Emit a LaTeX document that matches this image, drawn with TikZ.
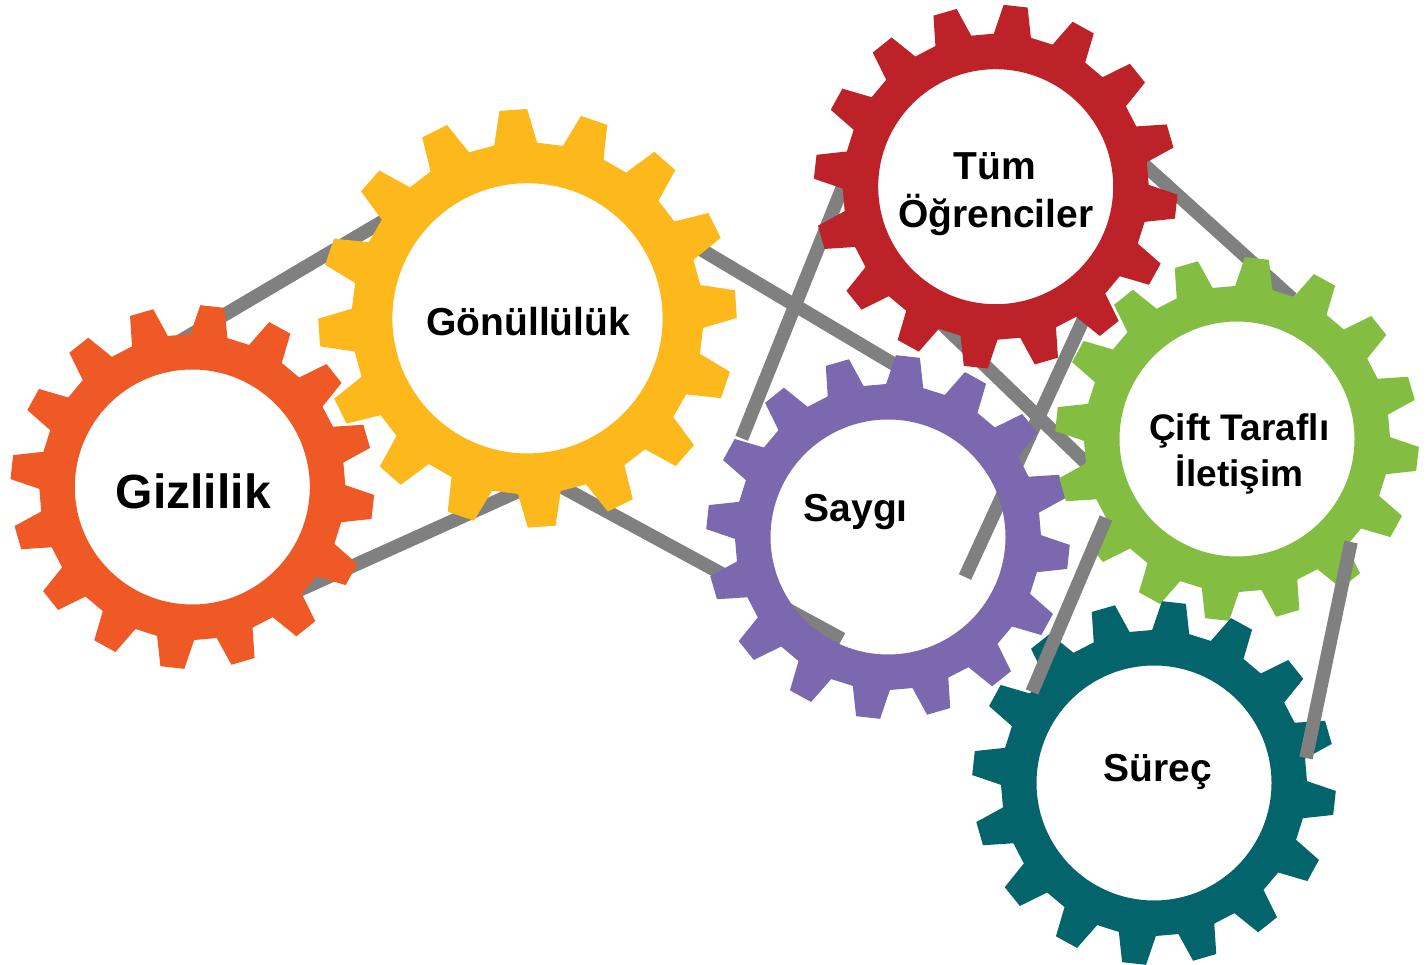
\documentclass[tikz,border=0pt]{standalone}
\usepackage{fontspec}
\setmainfont{Liberation Sans}
\definecolor{gOrange}{RGB}{238,89,38}
\definecolor{gYellow}{RGB}{253,184,27}
\definecolor{gRed}{RGB}{188,34,40}
\definecolor{gPurple}{RGB}{123,104,174}
\definecolor{gGreen}{RGB}{131,189,65}
\definecolor{gTeal}{RGB}{3,101,107}
\definecolor{beltgray}{RGB}{128,128,128}
\newcommand{\drawgear}[5]{%
  \begin{scope}[shift={(#1,#2)}, scale=#3]
    \fill[#5, even odd rule] ({#4-7}:153)
      \foreach \k in {0,...,15}{
        -- ({#4+22.5*\k-7}:153) -- ({#4+22.5*\k-3.8}:182)
        -- ({#4+22.5*\k+3.8}:182) -- ({#4+22.5*\k+7}:153)
      } -- cycle
      (0,0) circle (117.5);
  \end{scope}}
\tikzset{
  belt/.style={draw=beltgray, line width=13.5pt},
  gearlabel/.style={font=\bfseries\fontsize{39}{47}\selectfont, inner sep=0pt, anchor=base, text=black},
}
\begin{document}
\begin{tikzpicture}[x=1pt, y=-1pt]
  \useasboundingbox (0,0) rectangle (1427,965);
  \fill[white] (0,0) rectangle (1427,965);
  % belt end points
  \coordinate (a1) at (175,344);   \coordinate (b1) at (385,220);
  \coordinate (a2) at (290,594.3); \coordinate (b2) at (520,490.6);
  \coordinate (a3) at (680,237);   \coordinate (b3) at (897,366);
  \coordinate (a4) at (560,486);   \coordinate (b4) at (842,639);
  \coordinate (a5) at (845,181);   \coordinate (b5) at (741.7,438.3);
  \coordinate (a6) at (1085,316);  \coordinate (b6) at (965,577);
  \coordinate (a7) at (940,322);   \coordinate (b7) at (1086,463);
  \coordinate (a8) at (1140,161);  \coordinate (b8) at (1292,298.4);
  \coordinate (a9) at (1106,518);  \coordinate (b9) at (1032,692);
  \coordinate (a10) at (1351,542); \coordinate (b10) at (1306,758);
  % belts behind the gears
  \draw[belt] (a1) -- (b1);
  \draw[belt] (a2) -- (b2);
  \draw[belt] (a3) -- (b3);
  \draw[belt] (a4) -- (b4);
  \draw[belt] (a5) -- (b5);
  \draw[belt] (a6) -- (b6);
  \draw[belt] (a7) -- (b7);
  \draw[belt] (a8) -- (b8);
  % gears
  \drawgear{192.3}{487}{1}{6.3}{gOrange}
  \drawgear{527.5}{318.3}{1.15}{-3.9}{gYellow}
  \drawgear{995.7}{186.7}{1}{6.3}{gRed}
  \drawgear{888}{537}{1}{6.3}{gPurple}
  \drawgear{1237}{439}{1}{6.3}{gGreen}
  \drawgear{1154}{783}{1}{6.3}{gTeal}
  % belts in front
  \draw[belt] (a9) -- (b9);
  \draw[belt] (a10) -- (b10);
  % labels
  \node[gearlabel, font=\bfseries\fontsize{48}{56}\selectfont] (gizlilik) at (193.3,508.3) {Gizlilik};
  \node[gearlabel] (gonullu) at (528.3,336) {Gönüllülük};
  \node[gearlabel] (tum1) at (995,180) {Tüm};
  \node[gearlabel] (tum2) at (995.8,227.7) {Öğrenciler};
  \node[gearlabel] (saygi) at (855.8,521.7) {Saygı};
  \node[gearlabel, font=\bfseries\fontsize{37}{45}\selectfont] (cift1) at (1239.2,440) {Çift Taraflı};
  \node[gearlabel, font=\bfseries\fontsize{37}{45}\selectfont] (cift2) at (1239.7,486) {İletişim};
  \node[gearlabel] (surec) at (1158,781.7) {Süreç};
\end{tikzpicture}
\end{document}
